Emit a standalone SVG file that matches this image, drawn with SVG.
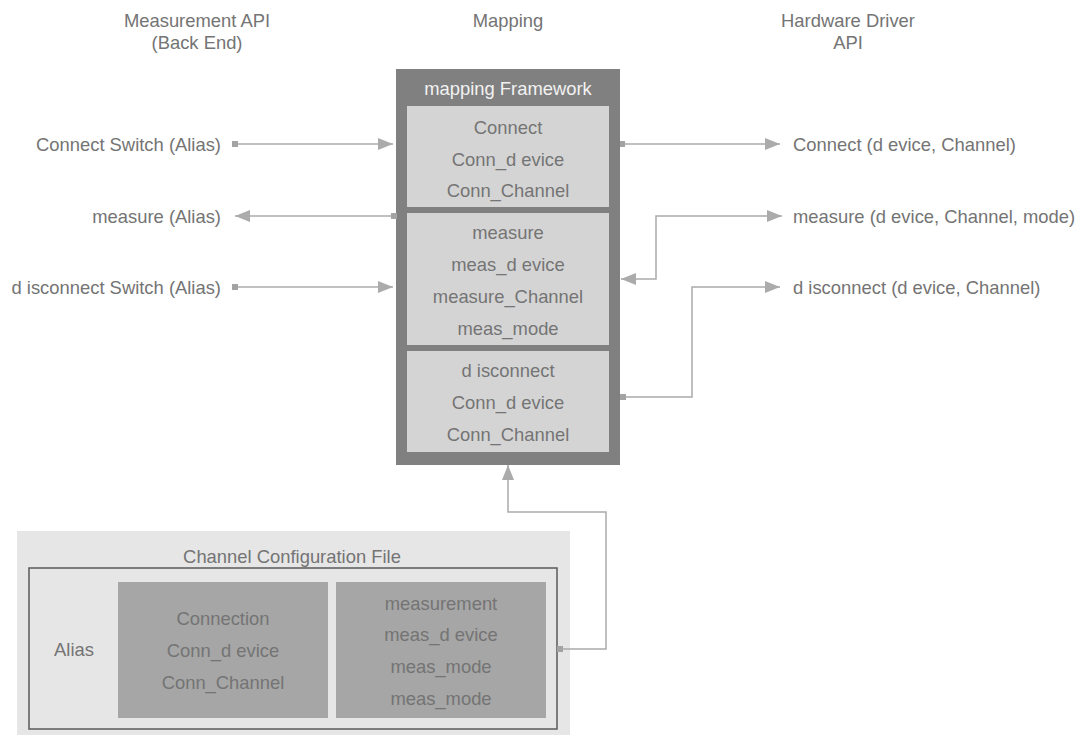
<svg xmlns="http://www.w3.org/2000/svg" width="1083" height="740" viewBox="0 0 1083 740">
<style>
text{font-family:"Liberation Sans",Arial,sans-serif;font-size:18.4px;fill:#747474;dominant-baseline:central}
.c{text-anchor:middle}
.r{text-anchor:end}
.hd{fill:#f2f2f2}
.conn{fill:none;stroke:#ababab;stroke-width:1.5}
.sq{fill:#a3a3a3}
</style>
<defs>
<marker id="ah" markerUnits="userSpaceOnUse" markerWidth="15" markerHeight="12" refX="15" refY="6" orient="auto-start-reverse">
<path d="M0,0 L15,6 L0,12 z" fill="#ababab"/>
</marker>
</defs>
<rect width="1083" height="740" fill="#ffffff"/>

<g id="headers">
<text class="c" x="197" y="20">Measurement API</text>
<text class="c" x="197" y="42">(Back End)</text>
<text class="c" x="508" y="20">Mapping</text>
<text class="c" x="848" y="20">Hardware Driver</text>
<text class="c" x="848" y="42">API</text>
</g>

<g id="mapping-framework">
<rect x="396" y="69" width="224" height="396" fill="#808080"/>
<text class="c hd" x="508" y="88">mapping Framework</text>
</g>
<g id="connect-block">
<rect x="407" y="106" width="202" height="101" fill="#d4d4d4"/>
<text class="c" x="508" y="127">Connect</text>
<text class="c" x="508" y="159">Conn_d evice</text>
<text class="c" x="508" y="190">Conn_Channel</text>
</g>
<g id="measure-block">
<rect x="407" y="213" width="202" height="132" fill="#d4d4d4"/>
<text class="c" x="508" y="232">measure</text>
<text class="c" x="508" y="264">meas_d evice</text>
<text class="c" x="508" y="296">measure_Channel</text>
<text class="c" x="508" y="328">meas_mode</text>
</g>
<g id="disconnect-block">
<rect x="407" y="351" width="202" height="101" fill="#d4d4d4"/>
<text class="c" x="508" y="370">d isconnect</text>
<text class="c" x="508" y="402">Conn_d evice</text>
<text class="c" x="508" y="434">Conn_Channel</text>
</g>

<g id="left-labels">
<text class="r" x="221" y="144">Connect Switch (Alias)</text>
<text class="r" x="221" y="216">measure (Alias)</text>
<text class="r" x="221" y="287">d isconnect Switch (Alias)</text>
</g>
<g id="right-labels">
<text x="793" y="144">Connect (d evice, Channel)</text>
<text x="793" y="216">measure (d evice, Channel, mode)</text>
<text x="793" y="287">d isconnect (d evice, Channel)</text>
</g>

<g id="config-file">
<rect x="17" y="531" width="553" height="204" fill="#e6e6e6"/>
<text class="c" x="292" y="556">Channel Configuration File</text>
<rect x="29" y="568" width="528" height="161" fill="none" stroke="#5a5a5a" stroke-width="1.5"/>
<text class="c" x="74" y="649">Alias</text>
</g>
<g id="connection-block">
<rect x="118" y="582" width="210" height="136" fill="#a6a6a6"/>
<text class="c" x="223" y="618">Connection</text>
<text class="c" x="223" y="650">Conn_d evice</text>
<text class="c" x="223" y="682">Conn_Channel</text>
</g>
<g id="measurement-block">
<rect x="336" y="582" width="210" height="136" fill="#a6a6a6"/>
<text class="c" x="441" y="603">measurement</text>
<text class="c" x="441" y="634">meas_d evice</text>
<text class="c" x="441" y="666">meas_mode</text>
<text class="c" x="441" y="698">meas_mode</text>
</g>

<g id="connectors">
<path class="conn" d="M238,144 H393" marker-end="url(#ah)"/>
<rect class="sq" x="232" y="141" width="6" height="6"/>
<path class="conn" d="M396,216 H235" marker-end="url(#ah)"/>
<rect class="sq" x="391" y="213" width="6" height="6"/>
<path class="conn" d="M238,287 H393" marker-end="url(#ah)"/>
<rect class="sq" x="232" y="284" width="6" height="6"/>
<path class="conn" d="M620,144 H780" marker-end="url(#ah)"/>
<rect class="sq" x="620" y="141" width="5" height="6"/>
<path class="conn" d="M621,279 H656 V216 H782" marker-start="url(#ah)" marker-end="url(#ah)"/>
<path class="conn" d="M621,397 H692 V287 H780" marker-end="url(#ah)"/>
<rect class="sq" x="620" y="394" width="6" height="6"/>
<path class="conn" d="M557,649 H606 V512 H508 V465" marker-end="url(#ah)"/>
<rect class="sq" x="557" y="646" width="6" height="6"/>
</g>
</svg>
